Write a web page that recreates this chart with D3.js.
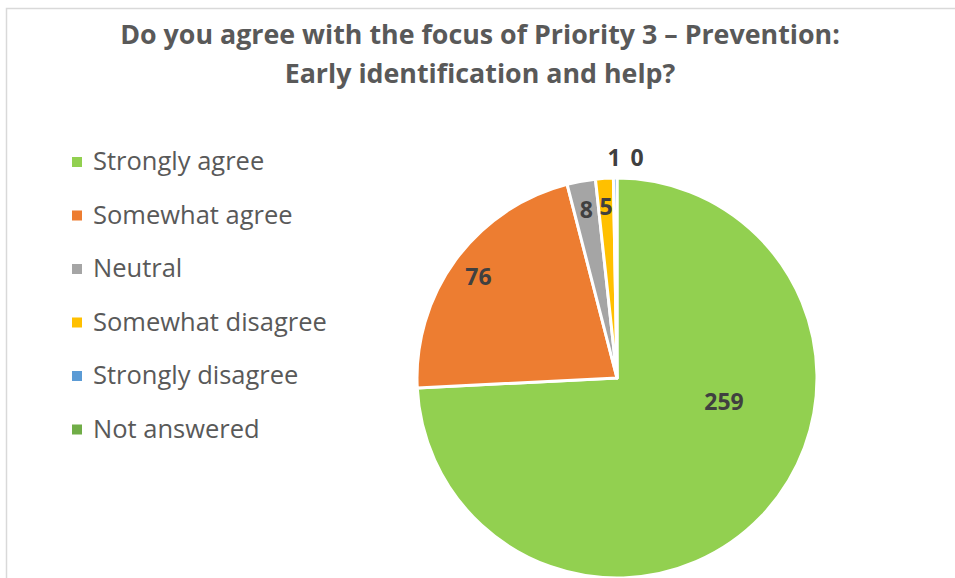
<!DOCTYPE html>
<html>
<head>
<meta charset="utf-8">
<script src="https://cdn.jsdelivr.net/npm/d3@7"></script>
<style>
  html, body { margin: 0; padding: 0; background: #fff; }
  svg { display: block; }
</style>
</head>
<body>
<svg id="chart" width="955" height="578"></svg>
<script>
// Survey responses
const categories = ["Strongly agree", "Somewhat agree", "Neutral", "Somewhat disagree", "Strongly disagree", "Not answered"];
const counts = [259, 76, 8, 5, 1, 0];
const colors = ["#92d050", "#ed7d31", "#a5a5a5", "#ffc000", "#5b9bd5", "#70ad47"];
const titleLines = ["Do you agree with the focus of Priority 3 \u2013 Prevention:", "Early identification and help?"];

const W = 955, H = 578;
const svg = d3.select("#chart");
const FONT = "'Open Sans', Lato, sans-serif";

// chart frame
svg.append("rect")
  .attr("x", 6.5).attr("y", 8.5)
  .attr("width", W + 20).attr("height", H + 20)
  .attr("fill", "#fff")
  .attr("stroke", "#d9d9d9").attr("stroke-width", 1.5);

// title
const title = svg.append("text")
  .attr("text-anchor", "middle")
  .attr("font-family", FONT)
  .attr("font-weight", 700)
  .attr("font-size", 26.8)
  .attr("fill", "#595959");
titleLines.forEach((t, i) => {
  title.append("tspan").attr("x", 480).attr("y", 44 + i * 39).text(t);
});

// legend
const legend = svg.append("g").attr("font-family", FONT).attr("font-size", 25.5);
categories.forEach((c, i) => {
  const y = 170 + i * 53.5;
  legend.append("rect")
    .attr("x", 72).attr("y", y - 13).attr("width", 10).attr("height", 10)
    .attr("fill", colors[i]);
  legend.append("text")
    .attr("x", 93).attr("y", y)
    .attr("fill", "#595959")
    .text(c);
});

// pie
const cx = 617, cy = 378, R = 200;
const data = categories.map((c, i) => ({ name: c, value: counts[i], color: colors[i], i }));
const pie = d3.pie().value(d => d.value).sort(null);
const arcs = pie(data);
const arc = d3.arc().innerRadius(0).outerRadius(R);

const g = svg.append("g").attr("transform", `translate(${cx},${cy})`);
g.selectAll("path")
  .data(arcs.filter(a => a.data.value > 0))
  .join("path")
  .attr("d", arc)
  .attr("fill", d => d.data.color)
  .attr("stroke", "#fff")
  .attr("stroke-width", 3)
  .attr("stroke-linejoin", "round");

// data labels: placed along the slice mid-angle, with small ones pulled outside
const labelPlace = [
  { r: 0.547, da: -0.55 },   // large slice: best-fit spot
  { r: 0.86, da: 0 },
  { r: 0.86, da: 0 },
  { r: 0.86, da: 0 },
  { r: 1.107, dx: -3 },
  { r: 1.107, dx: 20 }
];
g.selectAll("text.lbl")
  .data(arcs)
  .join("text")
  .attr("class", "lbl")
  .attr("text-anchor", "middle")
  .attr("dominant-baseline", "central")
  .attr("font-family", FONT)
  .attr("font-weight", 700)
  .attr("font-size", 23)
  .attr("fill", "#404040")
  .each(function (d, i) {
    const p = labelPlace[i];
    const mid = (d.startAngle + d.endAngle) / 2 + (p.da || 0);
    let x = Math.sin(mid) * R * p.r;
    let y = -Math.cos(mid) * R * p.r;
    if (p.dx !== undefined) { x = p.dx; y = -R * p.r; }
    d3.select(this).attr("x", x).attr("y", y).text(d.data.value);
  });
</script>
</body>
</html>
